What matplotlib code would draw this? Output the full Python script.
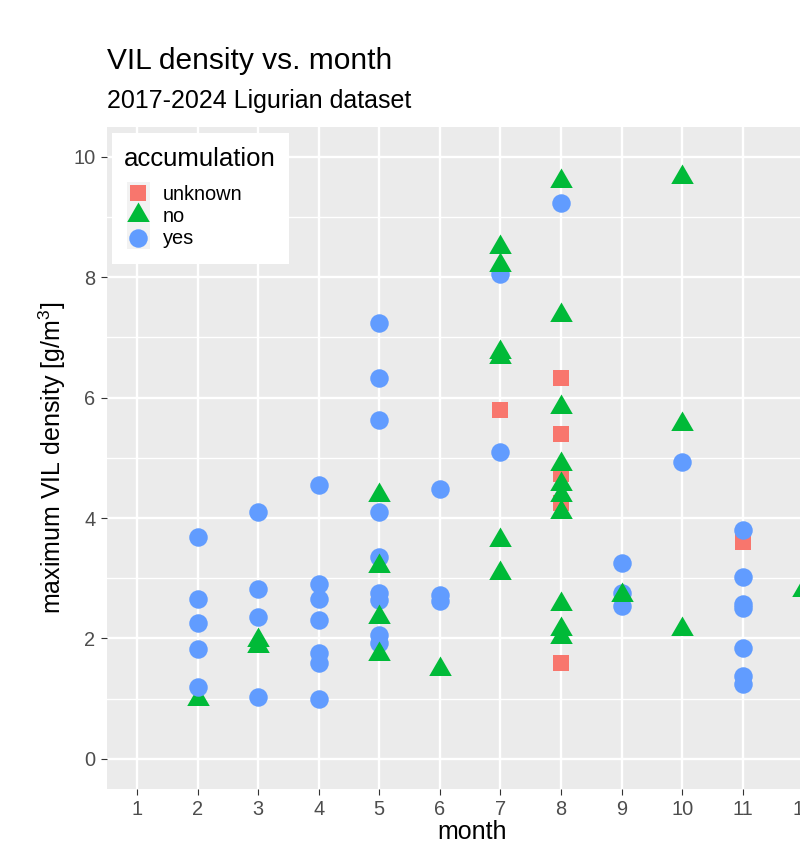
import matplotlib
matplotlib.use("Agg")
import matplotlib.pyplot as plt
from matplotlib.patches import Rectangle

plt.rcParams['font.family'] = ['Liberation Sans', 'DejaVu Sans']
plt.rcParams['mathtext.fontset'] = 'custom'
plt.rcParams['mathtext.rm'] = 'Liberation Sans'
plt.rcParams['mathtext.it'] = 'Liberation Sans:italic'

# ---- data (drawn in this order) ----
unknown_month = [7, 8, 8, 8, 8, 8, 11]
unknown_vil = [5.79, 6.33, 5.40, 4.74, 4.25, 1.59, 3.60]

yes_month = [2, 2, 2, 2,
             3, 3, 3, 3,
             4, 4, 4, 4, 4, 4, 4,
             5, 5, 5, 5, 5, 5, 5, 5, 5,
             6, 6, 6,
             7, 7,
             8,
             9, 9, 9,
             10,
             11, 11, 11, 11, 11, 11, 11]
yes_vil = [3.69, 2.65, 2.25, 1.82,
           4.10, 2.83, 2.36, 1.02,
           4.55, 2.91, 2.66, 2.30, 1.76, 1.59, 0.99,
           7.24, 6.33, 5.63, 4.10, 3.35, 2.75, 2.64, 2.06, 1.92,
           4.49, 2.72, 2.63,
           8.05, 5.09,
           9.24,
           3.25, 2.75, 2.54,
           4.93,
           3.80, 3.02, 2.57, 2.50, 1.84, 1.38, 1.25]

no_month = [2,
            3, 3,
            5, 5, 5, 5,
            6,
            7, 7, 7, 7, 7, 7,
            8, 8, 8, 8, 8, 8, 8, 8, 8, 8,
            9,
            10, 10, 10,
            12]
no_vil = [1.00,
          1.97, 1.88,
          4.38, 3.20, 2.35, 1.74,
          1.50,
          8.50, 8.21, 6.75, 6.68, 3.63, 3.09,
          9.59, 7.38, 5.84, 4.90, 4.57, 4.38, 4.10, 2.58, 2.15, 2.03,
          2.72,
          9.66, 5.56, 2.16,
          2.80]

late_yes_month = [2]
late_yes_vil = [1.20]

categories = ['unknown', 'no', 'yes']
colors = {'unknown': '#F8766D', 'no': '#00BA38', 'yes': '#619CFF'}

month_ticks = list(range(1, 13))
vil_ticks = [0, 2, 4, 6, 8, 10]

# ---- marker shapes (R pch 15 / 17 / 19 proportions) ----
tri = [(0, 1.5551), (1.3468, -0.7776), (-1.3468, -0.7776), (0, 1.5551)]
PX = 72 / 100.0  # points per pixel at dpi 100
marker_style = {
    'unknown': dict(marker='s', markersize=16.5 * PX),
    'no': dict(marker=tri, markersize=26.0 * PX),
    'yes': dict(marker='o', markersize=18.5 * PX),
}

W, H = 800, 846
fig = plt.figure(figsize=(W / 100, H / 100), dpi=100)

ax_left, ax_top, ax_bottom = 106.7, 126.7, 789.0
x_lo, x_hi = 0.5, 12.5
px_per_month = 60.58
ax_w = px_per_month * (x_hi - x_lo)
ax = fig.add_axes([ax_left / W, 1 - ax_bottom / H, ax_w / W, (ax_bottom - ax_top) / H])
ax.set_facecolor('#EBEBEB')
for s in ax.spines.values():
    s.set_visible(False)

ax.set_xlim(x_lo, x_hi)
ax.set_ylim(-0.5, 10.5)

# grid
for yv in [1, 3, 5, 7, 9]:
    ax.axhline(yv, color='white', lw=1.0, zorder=0.5)
for yv in vil_ticks:
    ax.axhline(yv, color='white', lw=1.7, zorder=0.6)
for xv in month_ticks:
    ax.axvline(xv, color='white', lw=1.7, zorder=0.6)

ax.set_xticks(month_ticks)
ax.set_xticklabels([str(m) for m in month_ticks])
ax.set_yticks(vil_ticks)
ax.set_yticklabels([str(v) for v in vil_ticks])
ax.tick_params(axis='both', length=4.5, width=0.8, color='#333333',
               labelcolor='#4D4D4D', labelsize=14.4, pad=3.6)


def draw(months, vals, cat):
    for m, v in zip(months, vals):
        ax.plot([m], [v], linestyle='none', color=colors[cat],
                markeredgewidth=0, zorder=2, **marker_style[cat])


draw(unknown_month, unknown_vil, 'unknown')
draw(yes_month, yes_vil, 'yes')
draw(no_month, no_vil, 'no')
draw(late_yes_month, late_yes_vil, 'yes')

# titles
fig.text(107 / W, 1 - 69 / H, 'VIL density vs. month', fontsize=21.5,
         ha='left', va='baseline', color='black')
fig.text(107 / W, 1 - 108 / H, '2017-2024 Ligurian dataset', fontsize=18,
         ha='left', va='baseline', color='black')

# axis titles
fig.text((ax_left + 365) / W, 1 - 839 / H,
         'month', fontsize=18, ha='center', va='baseline')
fig.text(52 / W, 1 - 458 / H, r'maximum VIL density [g/m$^{\mathrm{3}}$]',
         fontsize=18, rotation=90, ha='center', va='center')

# legend drawn in pixel coordinates
lg = fig.add_axes([0, 0, 1, 1], facecolor='none')
lg.set_xlim(0, W)
lg.set_ylim(H, 0)
lg.axis('off')
lg.add_patch(Rectangle((112, 133), 177, 131, facecolor='white', edgecolor='none'))
lg.text(124, 166, 'accumulation', fontsize=18.5, ha='left', va='baseline')
key_y = [193, 215.5, 238]
for cat, ky in zip(categories, key_y):
    lg.add_patch(Rectangle((126.5, ky - 11.3), 23, 22.6, facecolor='#F2F2F2',
                           edgecolor='none'))
    lg.plot([138], [ky], linestyle='none', color=colors[cat],
            markeredgewidth=0, **marker_style[cat])
    lg.text(163, ky + 1, cat, fontsize=14.4, ha='left', va='center')

fig.savefig('out.png', dpi=100)
